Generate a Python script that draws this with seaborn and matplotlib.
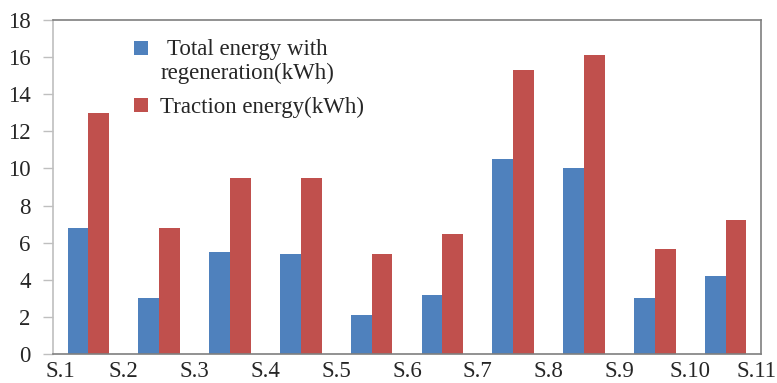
import numpy as np
import pandas as pd
import matplotlib
matplotlib.use("Agg")
import matplotlib.pyplot as plt
import matplotlib.patches as mpatches
from matplotlib.legend_handler import HandlerPatch
import seaborn as sns

segments = ["S.1", "S.2", "S.3", "S.4", "S.5", "S.6", "S.7", "S.8", "S.9", "S.10"]
tick_labels = ["S.1", "S.2", "S.3", "S.4", "S.5", "S.6", "S.7", "S.8", "S.9", "S.10", "S.11"]
total_regen = [6.8, 3.0, 5.5, 5.4, 2.1, 3.2, 10.5, 10.0, 3.0, 4.2]
traction = [13.0, 6.8, 9.5, 9.5, 5.4, 6.45, 15.3, 16.1, 5.65, 7.2]
series_names = ["Total energy with\nregeneration(kWh)", "Traction energy(kWh)"]
colors = ["#4F81BD", "#C0504D"]

df = pd.DataFrame({
    "segment": segments * 2,
    "value": total_regen + traction,
    "series": [series_names[0]] * len(segments) + [series_names[1]] * len(segments),
})

sns.set_style("white")
plt.rcParams["font.family"] = ["Liberation Serif", "DejaVu Serif"]
FS = 16.5

fig = plt.figure(figsize=(7.77, 3.83), dpi=100)
ax = fig.add_axes([53 / 777, 29 / 383, 708 / 777, 334 / 383])

sns.barplot(data=df, x="segment", y="value", hue="series", order=segments,
            hue_order=series_names, palette=colors, width=0.59, dodge=True,
            saturation=1, edgecolor="none", linewidth=0, ax=ax, legend=False)

ax.set_xlim(-0.5, len(segments) - 0.5)
ax.set_ylim(0, 18)
ax.set_yticks(np.arange(0, 19, 2))
ax.set_yticklabels([str(v) for v in range(0, 19, 2)], fontsize=FS)

xpos = np.arange(len(tick_labels)) - 0.5
xpos[0] += 0.1
xpos[-1] -= 0.06
ax.set_xticks(xpos)
ax.set_xticklabels(tick_labels, fontsize=FS)
ax.tick_params(axis="x", length=0, pad=5)
ax.tick_params(axis="y", length=7, width=1, color="#BFBFBF", pad=9, direction="out", left=True)
ax.set_xlabel("")
ax.set_ylabel("")

ax.spines["left"].set_color("#BFBFBF")
ax.spines["bottom"].set_color("#7F7F7F")
ax.spines["top"].set_color("#7F7F7F")
ax.spines["right"].set_color("#7F7F7F")
for s in ax.spines.values():
    s.set_linewidth(1.2)
    s.set_visible(True)


class TopHandler(HandlerPatch):
    def __init__(self, shift=0.0, **kw):
        super().__init__(**kw)
        self.shift = shift

    def create_artists(self, legend, orig_handle, xdescent, ydescent, width, height, fontsize, trans):
        p = mpatches.Rectangle((-xdescent, -ydescent + self.shift * fontsize), width, height,
                               facecolor=orig_handle.get_facecolor(), edgecolor="none")
        p.set_transform(trans)
        return [p]


handles = [mpatches.Patch(facecolor=c, edgecolor="none") for c in colors]
leg = ax.legend(handles, series_names, loc="upper left", bbox_to_anchor=(0.085, 1.005),
                frameon=False, fontsize=FS, handlelength=0.6, handleheight=0.6,
                handletextpad=0.55, labelspacing=0.55,
                handler_map={handles[0]: TopHandler(shift=0.6), handles[1]: TopHandler(shift=0.0)})
for t in leg.get_texts():
    t.set_multialignment("center")

fig.savefig("out.png", dpi=100)
